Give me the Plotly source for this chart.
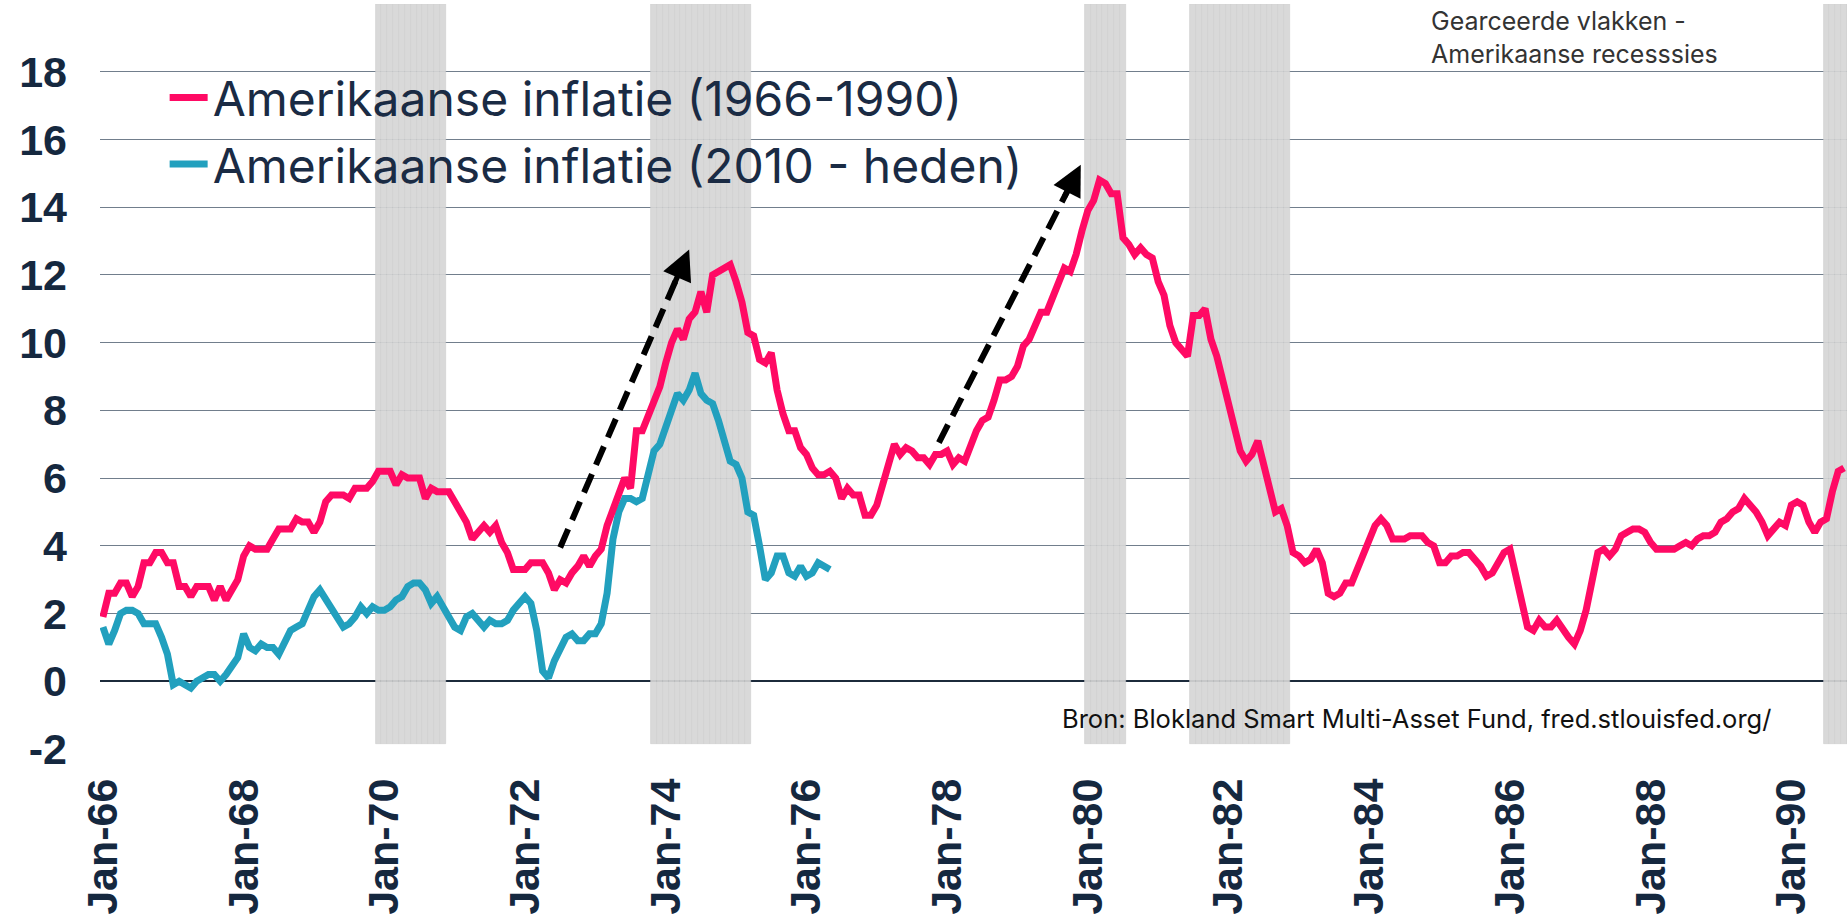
import plotly.graph_objects as go

# ---------------- data ----------------
start_year_red = 1966
red_name = "Amerikaanse inflatie (1966-1990)"
red_values = [
    1.9, 2.6, 2.6, 2.9, 2.9, 2.5, 2.8, 3.5, 3.5, 3.8, 3.8, 3.5,
    3.5, 2.8, 2.8, 2.5, 2.8, 2.8, 2.8, 2.4, 2.8, 2.4, 2.7, 3.0,
    3.7, 4.0, 3.9, 3.9, 3.9, 4.2, 4.5, 4.5, 4.5, 4.8, 4.7, 4.7,
    4.4, 4.7, 5.3, 5.5, 5.5, 5.5, 5.4, 5.7, 5.7, 5.7, 5.9, 6.2,
    6.2, 6.2, 5.8, 6.1, 6.0, 6.0, 6.0, 5.4, 5.7, 5.6, 5.6, 5.6,
    5.3, 5.0, 4.7, 4.2, 4.4, 4.6, 4.4, 4.6, 4.1, 3.8, 3.3, 3.3,
    3.3, 3.5, 3.5, 3.5, 3.2, 2.7, 3.0, 2.9, 3.2, 3.4, 3.7, 3.4,
    3.7, 3.9, 4.6, 5.1, 5.5, 6.0, 5.7, 7.4, 7.4, 7.8, 8.3, 8.7,
    9.4, 10.0, 10.4, 10.1, 10.7, 10.9, 11.5, 10.9, 12.0, 12.1, 12.2, 12.3,
    11.8, 11.2, 10.3, 10.2, 9.5, 9.4, 9.7, 8.6, 7.9, 7.4, 7.4, 6.9,
    6.7, 6.3, 6.1, 6.1, 6.2, 6.0, 5.4, 5.7, 5.5, 5.5, 4.9, 4.9,
    5.2, 5.9, 6.4, 7.0, 6.7, 6.9, 6.8, 6.6, 6.6, 6.4, 6.7, 6.7,
    6.8, 6.4, 6.6, 6.5, 7.0, 7.4, 7.7, 7.8, 8.3, 8.9, 8.9, 9.0,
    9.3, 9.9, 10.1, 10.5, 10.9, 10.9, 11.3, 11.8, 12.2, 12.1, 12.6, 13.3,
    13.9, 14.2, 14.8, 14.7, 14.4, 14.4, 13.1, 12.9, 12.6, 12.8, 12.6, 12.5,
    11.8, 11.4, 10.5, 10.0, 9.8, 9.6, 10.8, 10.8, 11.0, 10.1, 9.6, 8.9,
    8.4, 7.6, 6.8, 6.5, 6.7, 7.1, 6.4, 5.9, 5.0, 5.1, 4.6, 3.8,
    3.7, 3.5, 3.6, 3.9, 3.5, 2.6, 2.5, 2.6, 2.9, 2.9, 3.3, 3.8,
    4.2, 4.6, 4.8, 4.6, 4.2, 4.2, 4.2, 4.3, 4.3, 4.3, 4.1, 4.0,
    3.5, 3.5, 3.7, 3.7, 3.8, 3.8, 3.6, 3.4, 3.1, 3.2, 3.5, 3.8,
    3.9, 3.1, 2.3, 1.6, 1.5, 1.8, 1.6, 1.6, 1.8, 1.5, 1.3, 1.1,
    1.5, 2.1, 3.0, 3.8, 3.9, 3.7, 3.9, 4.3, 4.4, 4.5, 4.5, 4.4,
    4.1, 3.9, 3.9, 3.9, 3.9, 4.0, 4.1, 4.0, 4.2, 4.3, 4.3, 4.4,
    4.7, 4.8, 5.0, 5.1, 5.4, 5.2, 5.0, 4.7, 4.3, 4.5, 4.7, 4.6,
    5.2, 5.3, 5.2, 4.7, 4.4, 4.7, 4.8, 5.6, 6.2, 6.3,
]

blue_name = "Amerikaanse inflatie (2010 - heden)"
blue_values = [
    1.6, 1.1, 1.5, 2.0, 2.1, 2.1, 2.0, 1.7, 1.7, 1.7, 1.3, 0.8,
    -0.1, 0.0, -0.1, -0.2, 0.0, 0.1, 0.2, 0.2, 0.0, 0.2, 0.5, 0.7,
    1.4, 1.0, 0.9, 1.1, 1.0, 1.0, 0.8, 1.1, 1.5, 1.6, 1.7, 2.1,
    2.5, 2.7, 2.4, 2.2, 1.9, 1.6, 1.7, 1.9, 2.2, 2.0, 2.2, 2.1,
    2.1, 2.2, 2.4, 2.5, 2.8, 2.9, 2.9, 2.7, 2.3, 2.5, 2.2, 1.9,
    1.6, 1.5, 1.9, 2.0, 1.8, 1.6, 1.8, 1.7, 1.7, 1.8, 2.1, 2.3,
    2.5, 2.3, 1.5, 0.3, 0.1, 0.6, 1.0, 1.3, 1.4, 1.2, 1.2, 1.4,
    1.4, 1.7, 2.6, 4.2, 5.0, 5.4, 5.4, 5.3, 5.4, 6.2, 6.8, 7.0,
    7.5, 7.9, 8.5, 8.3, 8.6, 9.1, 8.5, 8.3, 8.2, 7.7, 7.1, 6.5,
    6.4, 6.0, 5.0, 4.9, 4.0, 3.0, 3.2, 3.7, 3.7, 3.2, 3.1, 3.4,
    3.1, 3.2, 3.5, 3.4, 3.3,
]

# US recessions (peak month, trough month), shaded
recessions = [("1969-12", "1970-11"), ("1973-11", "1975-03"),
              ("1980-01", "1980-07"), ("1981-07", "1982-11"),
              ("1990-07", "1991-03")]

tick_labels = ["Jan-66", "Jan-68", "Jan-70", "Jan-72", "Jan-74", "Jan-76",
               "Jan-78", "Jan-80", "Jan-82", "Jan-84", "Jan-86", "Jan-88", "Jan-90"]

y_ticks = [-2, 0, 2, 4, 6, 8, 10, 12, 14, 16, 18]

# dashed arrows: (tail month index, tail value, tip month index, tip value)
arrows = [(78.0, 3.95, 100.0, 12.75), (142.6, 7.05, 166.8, 15.25)]

note_text = "Gearceerde vlakken -<br>Amerikaanse recesssies"
source_text = "Bron: Blokland Smart Multi-Asset Fund, fred.stlouisfed.org/"

# ---------------- helpers ----------------
def month_index(s):
    y, m = s.split("-")
    return (int(y) - start_year_red) * 12 + int(m) - 1

rec_x = []
for a, b in recessions:
    rec_x.extend(range(month_index(a), month_index(b) + 1))

n_red = len(red_values)
NAVY = "#15283f"
RED = "#ff0a64"
BLUE = "#22a0be"

fig = go.Figure()

fig.add_trace(go.Bar(
    x=rec_x, y=[21.85] * len(rec_x), base=-1.85, width=1,
    marker=dict(color="#d6d6d6", line=dict(color="#cbcbcb", width=0.7)),
    opacity=0.92, showlegend=False, hoverinfo="skip",
))

fig.add_trace(go.Scatter(
    x=list(range(len(blue_values))), y=blue_values, mode="lines",
    name=blue_name, line=dict(color=BLUE, width=7),
    legendrank=2, legendgroup="b",
))
fig.add_trace(go.Scatter(
    x=list(range(n_red)), y=red_values, mode="lines",
    name=red_name, line=dict(color=RED, width=7),
    legendrank=1, legendgroup="a",
))

shapes = []
annotations = []
for tx, ty, hx, hy in arrows:
    f = 0.92
    bx = tx + (hx - tx) * f
    by = ty + (hy - ty) * f
    shapes.append(dict(type="line", xref="x", yref="y", x0=tx, y0=ty, x1=bx, y1=by,
                       line=dict(color="black", width=6, dash="20px,10px"), layer="above"))
    cx = tx + (hx - tx) * 0.88
    cy = ty + (hy - ty) * 0.88
    annotations.append(dict(x=hx, y=hy, ax=cx, ay=cy, xref="x", yref="y",
                            axref="x", ayref="y", text="", showarrow=True,
                            arrowhead=2, arrowwidth=5.5, arrowsize=1.1,
                            arrowcolor="black"))

annotations.append(dict(text=note_text, xref="paper", yref="paper",
                        x=0.7607, y=1.0, xanchor="left", yanchor="top",
                        align="left", showarrow=False,
                        font=dict(family="Inter", size=25, color="#333333")))
annotations.append(dict(text=source_text, xref="paper", yref="paper",
                        x=0.5495, y=0.0416, xanchor="left", yanchor="middle",
                        align="left", showarrow=False,
                        font=dict(family="Inter", size=25.5, color="#111111")))

fig.update_layout(
    width=1847, height=923,
    margin=dict(l=100, r=0, t=4, b=174),
    plot_bgcolor="white", paper_bgcolor="white",
    bargap=0, barmode="overlay",
    showlegend=True,
    legend=dict(x=0.037, y=0.925, xanchor="left", yanchor="top",
                bgcolor="rgba(0,0,0,0)", tracegroupgap=1, itemwidth=38,
                font=dict(family="Inter", size=48, color="#1a2b44")),
    shapes=shapes, annotations=annotations,
    xaxis=dict(range=[-0.5, n_red - 0.5], tickmode="array",
               tickvals=[i * 24 for i in range(len(tick_labels))],
               ticktext=tick_labels, tickangle=-90, showgrid=False,
               zeroline=False, showline=False, ticks="",
               ticklabelstandoff=20,
               tickfont=dict(family="Liberation Sans", size=43, color=NAVY, weight="bold")),
    yaxis=dict(range=[-2, 20], tickmode="array", tickvals=y_ticks,
               ticktext=[str(v) for v in y_ticks],
               showgrid=True, gridcolor="#717e8c", gridwidth=1.3,
               zeroline=True, zerolinecolor="#1c2b3b", zerolinewidth=2,
               showline=False, ticks="", ticklabelstandoff=32,
               tickfont=dict(family="Liberation Sans", size=43, color=NAVY, weight="bold")),
)

fig.write_html("out.html", config={"displayModeBar": False},
               post_script="document.body.style.margin='0';document.body.style.overflow='hidden';")
